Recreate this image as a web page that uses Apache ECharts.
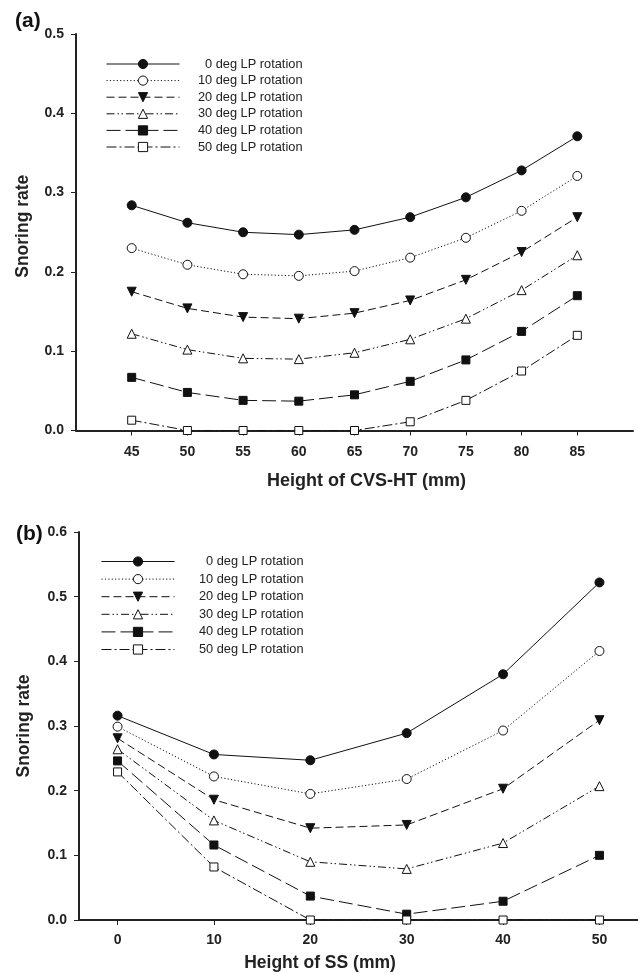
<!DOCTYPE html>
<html>
<head>
<meta charset="utf-8">
<script src="https://cdn.jsdelivr.net/npm/echarts@6/dist/echarts.min.js"></script>
<style>
html,body{margin:0;padding:0;background:#fff;}
#chart{width:638px;height:974px;}
</style>
</head>
<body>
<div id="chart"></div>
<script>
// ---- data ----
const seriesNames = ['0 deg LP rotation','10 deg LP rotation','20 deg LP rotation','30 deg LP rotation','40 deg LP rotation','50 deg LP rotation'];

const xA = [45, 50, 55, 60, 65, 70, 75, 80, 85];
const a0 = [0.284, 0.262, 0.250, 0.247, 0.253, 0.269, 0.294, 0.328, 0.371];
const a1 = [0.230, 0.209, 0.197, 0.195, 0.201, 0.218, 0.243, 0.277, 0.321];
const a2 = [0.175, 0.154, 0.143, 0.141, 0.148, 0.164, 0.190, 0.225, 0.269];
const a3 = [0.122, 0.102, 0.091, 0.090, 0.098, 0.115, 0.141, 0.177, 0.221];
const a4 = [0.067, 0.048, 0.038, 0.037, 0.045, 0.062, 0.089, 0.125, 0.170];
const a5 = [0.013, 0.000, 0.000, 0.000, 0.000, 0.011, 0.038, 0.075, 0.120];

const xB = [0, 10, 20, 30, 40, 50];
const b0 = [0.316, 0.256, 0.247, 0.289, 0.380, 0.522];
const b1 = [0.299, 0.222, 0.195, 0.218, 0.293, 0.416];
const b2 = [0.281, 0.186, 0.142, 0.147, 0.203, 0.309];
const b3 = [0.264, 0.154, 0.090, 0.079, 0.119, 0.207];
const b4 = [0.246, 0.116, 0.037, 0.009, 0.029, 0.100];
const b5 = [0.229, 0.082, 0.000, 0.000, 0.000, 0.000];

const xTicksA = [45, 50, 55, 60, 65, 70, 75, 80, 85];
const xTicksB = [0, 10, 20, 30, 40, 50];

// ---- styles ----
const FONT = '"Liberation Sans", Arial, Helvetica, sans-serif';
const DOWN_TRI = 'path://M0,0 L10,0 L5,9 Z';
const UP_TRI = 'path://M5,0 L10,9 L0,9 Z';
const styles = [
  {symbol: 'circle', fill: '#111', dash: 'solid', size: 9},
  {symbol: 'circle', fill: '#fff', dash: [1.2, 2.2], size: 9},
  {symbol: DOWN_TRI, fill: '#111', dash: [8, 4], size: 9},
  {symbol: UP_TRI, fill: '#fff', dash: [8, 3, 1.5, 2.5, 1.5, 3], size: 9},
  {symbol: 'rect', fill: '#111', dash: [14, 5], size: 8},
  {symbol: 'rect', fill: '#fff', dash: [10, 3, 2, 3], size: 8}
];

function mk(name, xs, ys, st, gi) {
  return {
    type: 'line', name: name,
    xAxisIndex: gi, yAxisIndex: gi,
    data: xs.map((x, i) => [x, ys[i]]),
    symbol: st.symbol, symbolSize: st.size,
    showAllSymbol: true,
    lineStyle: {color: '#111', width: 1, type: st.dash},
    itemStyle: {color: st.fill, borderColor: '#111', borderWidth: 1},
    emphasis: {disabled: true},
    animation: false,
    z: 3
  };
}

const seriesA = [a0, a1, a2, a3, a4, a5];
const seriesB = [b0, b1, b2, b3, b4, b5];
const series = [];
seriesA.forEach((ys, i) => series.push(mk(seriesNames[i], xA, ys, styles[i], 0)));
seriesB.forEach((ys, i) => series.push(mk(seriesNames[i], xB, ys, styles[i], 1)));

const tickLabel = {color: '#222', fontFamily: FONT, fontWeight: 'bold', fontSize: 14};
const axisLine = {show: true, onZero: false, lineStyle: {color: '#222', width: 2}};
const axisTick = {show: true, length: 5, lineStyle: {color: '#222', width: 1}};
const nameStyle = {fontFamily: FONT, fontWeight: 'bold', fontSize: 17.5, color: '#222'};

function legend(left, top, gap, textW) {
  return {
    show: true, orient: 'vertical', left: left, top: top, padding: 0,
    itemWidth: 73, itemHeight: 11.5, itemGap: gap,
    data: seriesNames,
    selectedMode: false,
    lineStyle: {width: 1},
    itemStyle: {borderWidth: 1},
    formatter: n => '{a|' + n + '}',
    textStyle: {rich: {a: {width: textW, align: 'right', fontSize: 12.8, lineHeight: 14, color: '#222', fontFamily: FONT}}}
  };
}

const option = {
  backgroundColor: '#fff',
  animation: false,
  title: [
    {text: '(a)', left: 15, top: 11, padding: 0, textStyle: {fontFamily: FONT, fontWeight: 'bold', fontSize: 21, color: '#111'}},
    {text: '(b)', left: 16, top: 524, padding: 0, textStyle: {fontFamily: FONT, fontWeight: 'bold', fontSize: 21, color: '#111'}}
  ],
  legend: [legend(106, 57.5, 3.6, 118), legend(101, 555, 4.6, 124)],
  grid: [
    {left: 76, top: 34, width: 557, height: 396.5, outerBoundsMode: 'none', containLabel: false},
    {left: 79, top: 532, width: 559, height: 388, outerBoundsMode: 'none', containLabel: false}
  ],
  xAxis: [
    {
      type: 'value', gridIndex: 0, min: 40, max: 90,
      name: 'Height of CVS-HT (mm)', nameLocation: 'middle', nameGap: 42,
      nameTextStyle: Object.assign({}, nameStyle, {fontSize: 18, padding: [0, 0, 0, 24]}),
      axisLine: axisLine,
      axisTick: Object.assign({customValues: xTicksA}, axisTick),
      axisLabel: Object.assign({customValues: xTicksA, margin: 15}, tickLabel),
      splitLine: {show: false}
    },
    {
      type: 'value', gridIndex: 1, min: -4, max: 54,
      name: 'Height of SS (mm)', nameLocation: 'middle', nameGap: 34,
      nameTextStyle: Object.assign({}, nameStyle, {padding: [0, 77, 0, 0]}),
      axisLine: axisLine,
      axisTick: Object.assign({customValues: xTicksB}, axisTick),
      axisLabel: Object.assign({customValues: xTicksB, margin: 13}, tickLabel),
      splitLine: {show: false}
    }
  ],
  yAxis: [
    {
      type: 'value', gridIndex: 0, min: 0, max: 0.5, interval: 0.1,
      name: 'Snoring rate', nameLocation: 'middle', nameGap: 43.5,
      nameTextStyle: Object.assign({}, nameStyle, {padding: [0, 0, 0, 12]}),
      axisLine: axisLine, axisTick: axisTick,
      axisLabel: Object.assign({margin: 12, formatter: v => v.toFixed(1)}, tickLabel),
      splitLine: {show: false}
    },
    {
      type: 'value', gridIndex: 1, min: 0, max: 0.6, interval: 0.1,
      name: 'Snoring rate', nameLocation: 'middle', nameGap: 46,
      nameTextStyle: nameStyle,
      axisLine: axisLine, axisTick: axisTick,
      axisLabel: Object.assign({margin: 12, formatter: v => v.toFixed(1)}, tickLabel),
      splitLine: {show: false}
    }
  ],
  series: series
};

const chart = echarts.init(document.getElementById('chart'), null, {renderer: 'canvas'});
chart.setOption(option);
</script>
</body>
</html>
